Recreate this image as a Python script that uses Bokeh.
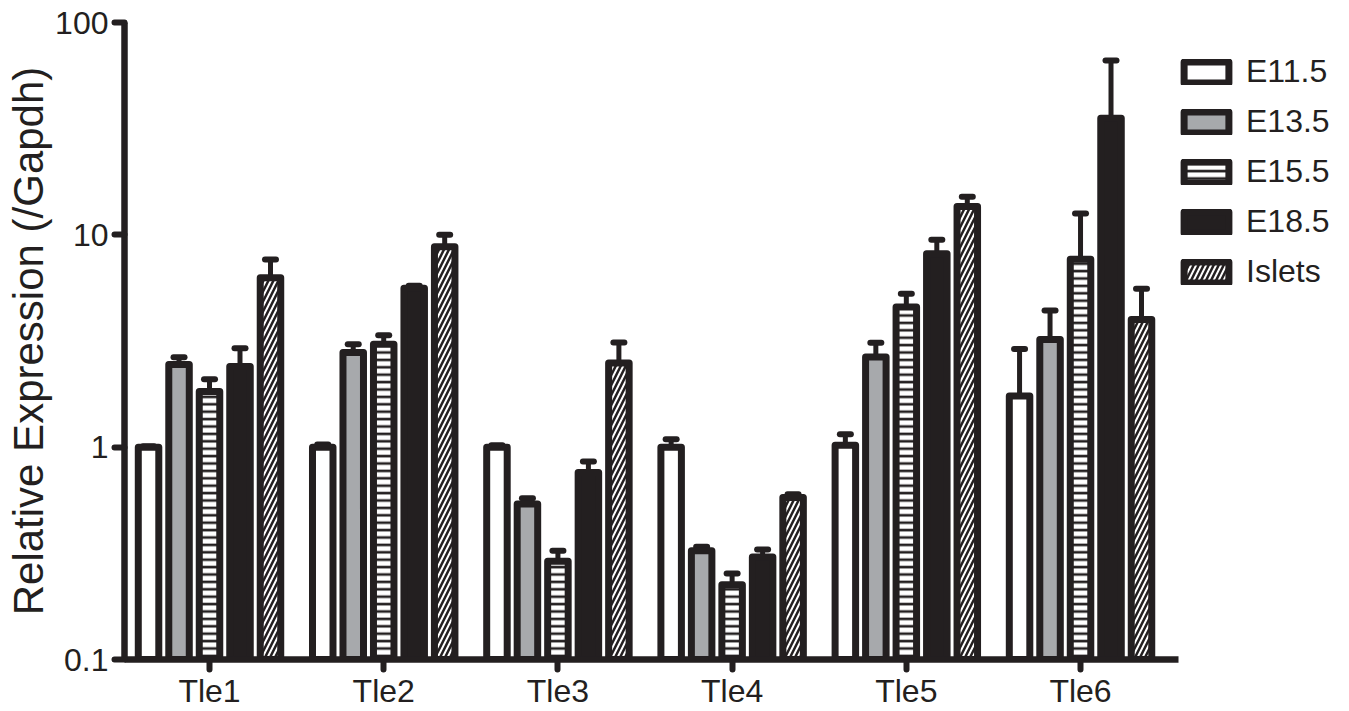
from bokeh.plotting import figure
from bokeh.models import (ColumnDataSource, Range1d, FixedTicker, CustomJSTickFormatter,
                          Legend, LegendItem)
from bokeh.embed import file_html
from bokeh.resources import INLINE

# ---------------- data ----------------
genes = ["Tle1", "Tle2", "Tle3", "Tle4", "Tle5", "Tle6"]
stages = ["E11.5", "E13.5", "E15.5", "E18.5", "Islets"]

e115 = [1.0, 1.0, 1.0, 1.0, 1.02, 1.74]
e115_up = [1.01, 1.03, 1.02, 1.09, 1.15, 2.9]

e135 = [2.45, 2.79, 0.54, 0.325, 2.66, 3.21]
e135_up = [2.65, 3.05, 0.575, 0.34, 3.1, 4.4]

e155 = [1.83, 3.05, 0.29, 0.225, 4.57, 7.67]
e155_up = [2.09, 3.37, 0.325, 0.254, 5.28, 12.6]

e185 = [2.40, 5.6, 0.76, 0.304, 8.15, 35.4]
e185_up = [2.92, 5.75, 0.857, 0.33, 9.48, 66.3]

islets = [6.28, 8.79, 2.49, 0.58, 13.6, 3.99]
islets_up = [7.66, 10.0, 3.11, 0.60, 15.1, 5.58]

series = [e115, e135, e155, e185, islets]
series_up = [e115_up, e135_up, e155_up, e185_up, islets_up]

yticks = [0.1, 1, 10, 100]
ylabels = ["0.1", "1", "10", "100"]

# ---------------- style ----------------
INK = "#231f20"
GRAY = "#a7a9ac"
FONT = "Liberation Sans"

styles = [
    dict(fill_color="white"),
    dict(fill_color=GRAY),
    dict(fill_color="white", hatch_pattern="horizontal_line", hatch_scale=7.4,
         hatch_weight=2.6, hatch_color=INK),
    dict(fill_color=INK),
    dict(fill_color="white", hatch_pattern="right_diagonal_line", hatch_scale=10,
         hatch_weight=2.5, hatch_color=INK),
]

pos = [i + 1 for i in range(len(genes))]
step = 0.175
bar_w = 0.1177
x_lo, x_axis_hi, x_hi = 0.512, 6.563, 7.544

p = figure(width=1349, height=711, y_axis_type="log",
           x_range=Range1d(x_lo, x_hi), y_range=Range1d(0.1, 100),
           output_backend="svg", toolbar_location=None,
           min_border_top=22, min_border_left=124, min_border_right=0,
           min_border_bottom=0)
p.grid.visible = False
p.outline_line_color = None
p.background_fill_color = "white"
p.border_fill_color = "white"

items = []
for i, (name, vals, ups, st) in enumerate(zip(stages, series, series_up, styles)):
    off = (i - 2) * step
    src = ColumnDataSource(dict(x=[g + off for g in pos], top=vals, upper=ups))
    p.segment(x0="x", y0="top", x1="x", y1="upper", source=src,
              line_width=5, line_color=INK)
    p.scatter(x="x", y="upper", source=src, marker="dash", size=11,
              line_width=6, line_color=INK, line_cap="round")
    r = p.vbar(x="x", top="top", bottom=0.1, width=bar_w, source=src,
               line_color=INK, line_width=7, line_join="round", **st)
    items.append(LegendItem(label=name, renderers=[r]))

legend = Legend(items=items, location=(1054, 369), glyph_width=56, glyph_height=26,
                label_standoff=12, spacing=13, padding=0, margin=0,
                border_line_color=None, background_fill_alpha=0,
                label_text_font_size="32px", label_text_font=FONT,
                label_text_color=INK)
p.add_layout(legend, "center")

# y axis
ya = p.yaxis[0]
ya.ticker = FixedTicker(ticks=yticks, minor_ticks=[])
ya.formatter = CustomJSTickFormatter(args=dict(vals=yticks, labs=ylabels), code="""
    for (let i = 0; i < vals.length; i++) {
        if (Math.abs(Math.log10(tick) - Math.log10(vals[i])) < 1e-6) return labs[i];
    }
    return "";
""")
ya.axis_label = "Relative Expression (/Gapdh)"
ya.axis_label_text_font_size = "42px"
ya.axis_label_text_font_style = "normal"
ya.axis_label_text_font = FONT
ya.axis_label_text_color = INK
ya.axis_label_standoff = 0
ya.major_label_standoff = 6

# x axis
xa = p.xaxis[0]
xa.ticker = FixedTicker(ticks=pos, minor_ticks=[])
xa.formatter = CustomJSTickFormatter(args=dict(labs=genes),
                                     code="return labs[Math.round(tick) - 1];")
xa.bounds = (x_lo, x_axis_hi)
xa.major_label_standoff = 3

for ax in (xa, ya):
    ax.axis_line_width = 6.5
    ax.axis_line_color = INK
    ax.major_tick_line_width = 6
    ax.major_tick_line_color = INK
    ax.major_tick_line_cap = "round"
    ax.major_tick_out = 10
    ax.major_tick_in = 0
    ax.minor_tick_out = 0
    ax.minor_tick_in = 0
    ax.minor_tick_line_color = None
    ax.major_label_text_font_size = "32px"
    ax.major_label_text_font = FONT
    ax.major_label_text_color = INK

open("out.html", "w").write(file_html(p, INLINE))
